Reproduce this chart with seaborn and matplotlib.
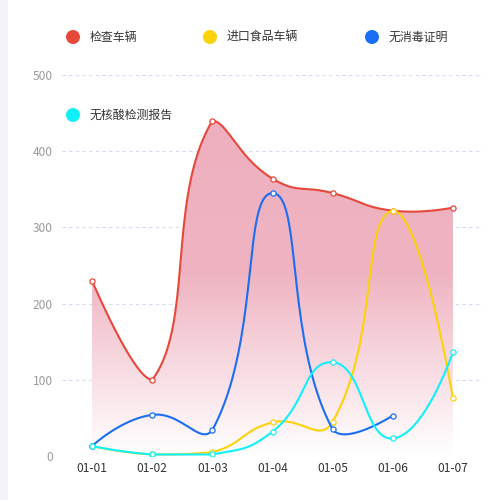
import numpy as np
import pandas as pd
import matplotlib
matplotlib.use("Agg")
import matplotlib.pyplot as plt
from matplotlib.colors import LinearSegmentedColormap
from matplotlib.patches import Rectangle, Circle
import seaborn as sns

categories = ["01-01", "01-02", "01-03", "01-04", "01-05", "01-06", "01-07"]
series_names = ["检查车辆", "进口食品车辆", "无消毒证明", "无核酸检测报告"]
check_vehicles = [230, 100, 440, 364, 345, 322, 326]
import_food = [13, 2, 5, 44, 45, 322, 76]
no_disinfect = [13, 54, 34, 345, 35, 53, None]
no_nucleic = [13, 2, 2, 32, 123, 23, 136]
y_ticks = [0, 100, 200, 300, 400, 500]

colors = ["#e6483a", "#fcd20b", "#1b6ef3", "#10f0fa"]

sns.set_theme(style="white")
plt.rcParams["font.family"] = ["Noto Sans CJK SC", "DejaVu Sans"]

fig = plt.figure(figsize=(5, 5), dpi=100)
fig.patch.set_facecolor("white")
fig.patches.append(Rectangle((0, 0), 8 / 500, 1, transform=fig.transFigure,
                             facecolor="#f3f4f9", edgecolor="none", zorder=0))
ax = fig.add_axes([62 / 500, 44 / 500, 421 / 500, 381 / 500])
ax.set_xlim(-0.5, len(categories) - 0.5)
ax.set_ylim(0, 500)
ax.set_facecolor("none")


def smooth_curve(xs, ys, smooth=0.5, n=40):
    pts = ax.transData.transform(np.column_stack([xs, ys]).astype(float))
    lo = pts.min(axis=0)
    hi = pts.max(axis=0)
    m = len(pts)
    out = [pts[0]]
    cp0 = pts[0].copy()
    for i in range(1, m):
        p = pts[i]
        prev = pts[i - 1]
        if i + 1 < m:
            nxt = pts[i + 1]
            v = nxt - prev
            lp = np.hypot(*(p - prev))
            ln = np.hypot(*(nxt - p))
            r = ln / (ln + lp)
            cp1 = p - v * smooth * (1 - r)
        else:
            v = np.zeros(2)
            r = 0.5
            cp1 = p.copy()
        c0 = np.clip(cp0, lo, hi)
        c1 = np.clip(cp1, lo, hi)
        t = np.linspace(0, 1, n)[1:, None]
        seg = ((1 - t) ** 3) * prev + 3 * ((1 - t) ** 2) * t * c0 + 3 * (1 - t) * t ** 2 * c1 + t ** 3 * p
        out.extend(seg)
        cp0 = p + v * smooth * r
    out = np.array(out)
    return ax.transData.inverted().transform(out)


all_series = [check_vehicles, import_food, no_disinfect, no_nucleic]

# grid lines
for yv in y_ticks:
    ax.axhline(yv, color="#d3dbee", lw=0.8, ls=(0, (3, 3)), zorder=1)

curves = []
for vals in all_series:
    xs = [i for i, v in enumerate(vals) if v is not None]
    ys = [v for v in vals if v is not None]
    curves.append((xs, ys, smooth_curve(xs, ys)))

# gradient area under first series
xs0, ys0, c0 = curves[0]
poly = ax.fill_between(c0[:, 0], c0[:, 1], 0, color="none", lw=0, zorder=2)
cmap = LinearSegmentedColormap.from_list(
    "pinkfade", [(0, "#eeb0bf"), (0.45, "#efb3c1"), (1.0, "#ffffff")])
grad = np.linspace(0, 1, 256)[:, None]
top = max(ys0)
im = ax.imshow(grad, extent=[xs0[0], xs0[-1], 0, top], origin="upper",
               aspect="auto", cmap=cmap, zorder=2)
im.set_clip_path(poly.get_paths()[0], transform=ax.transData)
ax.set_xlim(-0.5, len(categories) - 0.5)
ax.set_ylim(0, 500)

for k, ((xs, ys, c), col) in enumerate(zip(curves, colors)):
    df = pd.DataFrame({"x": c[:, 0], "y": c[:, 1]})
    sns.lineplot(data=df, x="x", y="y", sort=False, estimator=None, ax=ax,
                 color=col, lw=1.5, zorder=3 + k)
    pdf = pd.DataFrame({"x": xs, "y": ys})
    sns.scatterplot(data=pdf, x="x", y="y", ax=ax, s=14, color="white",
                    edgecolor=col, linewidth=0.9, zorder=3.5 + k)

ax.set_xticks(range(len(categories)))
ax.set_xticklabels(categories, color="#333333", fontsize=8.6)
ax.set_yticks(y_ticks)
ax.set_yticklabels([str(v) for v in y_ticks], color="#9a9a9a", fontsize=8.6)
ax.tick_params(axis="x", length=0, pad=4)
ax.tick_params(axis="y", length=0, pad=6.5)
ax.set_xlabel("")
ax.set_ylabel("")
for s in ax.spines.values():
    s.set_visible(False)

# legend (manual, ECharts-style)
legend_pos = [(73, 37), (210, 37), (372, 37), (73, 115)]
for name, col, (px, py) in zip(series_names, colors, legend_pos):
    fig.patches.append(Circle((px / 500, 1 - py / 500), 7 / 500,
                              transform=fig.transFigure, facecolor=col,
                              edgecolor="none", zorder=10))
    fig.text((px + 17) / 500, 1 - py / 500, name, fontsize=8.6, color="#333333",
             va="center", ha="left", zorder=10)

fig.savefig("out.png", dpi=100)
